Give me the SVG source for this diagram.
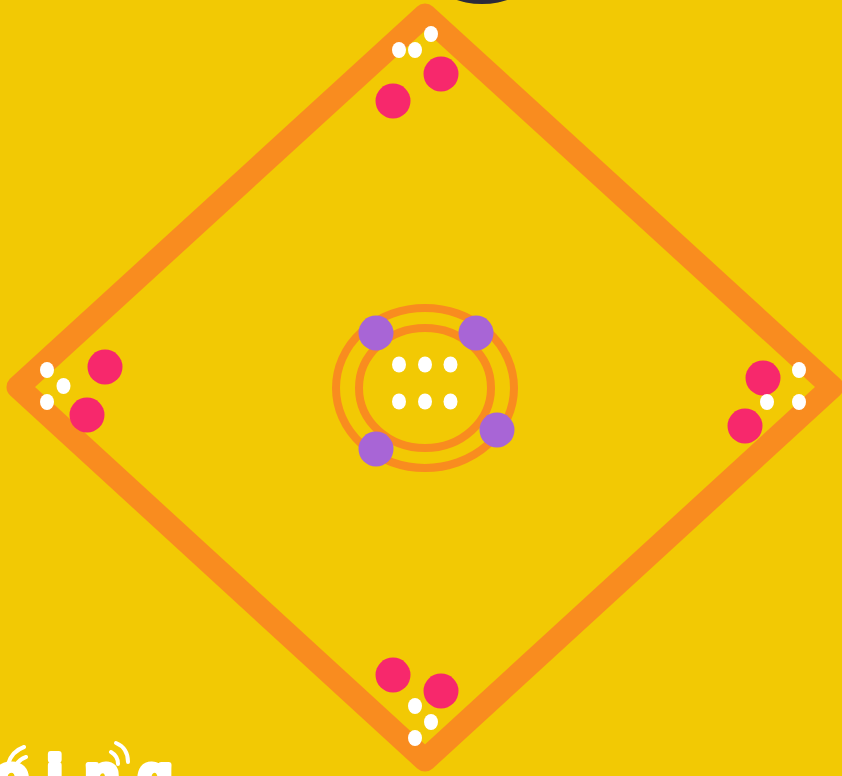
<svg xmlns="http://www.w3.org/2000/svg" width="842" height="776" viewBox="0 0 842 776">
<style>
.pink{fill:#F7286C}
.purple{fill:#A865D6}
.dot{fill:#FFFFFF}
.ring{fill:none;stroke:#F98C1F;stroke-width:8}
.logo{font-family:"Liberation Sans",Arial,sans-serif;font-weight:bold;font-size:56px;fill:#FFFFFF;stroke:#FFFFFF;stroke-width:6;stroke-linejoin:round}
.swoosh{fill:none;stroke:#FFFFFF;stroke-width:4;stroke-linecap:round}
</style>
<rect x="0" y="0" width="842" height="776" fill="#F2C904"/>
<ellipse cx="482" cy="-16" rx="42" ry="20" fill="#2B2A3A"/>
<g id="field">
<polygon points="425,15 832,387 425,760 18,387" fill="none" stroke="#F98C1F" stroke-width="23" stroke-linejoin="round"/>
</g>
<g id="center">
<ellipse class="ring" cx="425" cy="388" rx="89" ry="80"/>
<ellipse class="ring" cx="425" cy="388" rx="66" ry="60"/>
<circle class="purple" cx="376" cy="333" r="17.5"/>
<circle class="purple" cx="476" cy="333" r="17.5"/>
<circle class="purple" cx="497" cy="430" r="17.5"/>
<circle class="purple" cx="376" cy="449" r="17.5"/>
<ellipse class="dot" cx="399" cy="364.5" rx="7" ry="8"/>
<ellipse class="dot" cx="425" cy="364.5" rx="7" ry="8"/>
<ellipse class="dot" cx="450.5" cy="364.5" rx="7" ry="8"/>
<ellipse class="dot" cx="399" cy="401.5" rx="7" ry="8"/>
<ellipse class="dot" cx="425" cy="401.5" rx="7" ry="8"/>
<ellipse class="dot" cx="450.5" cy="401.5" rx="7" ry="8"/>
</g>
<g id="top-base">
<circle class="pink" cx="441" cy="74" r="17.5"/>
<circle class="pink" cx="393" cy="101" r="17.5"/>
<ellipse class="dot" cx="399" cy="50" rx="7" ry="8"/>
<ellipse class="dot" cx="415" cy="50" rx="7" ry="8"/>
<ellipse class="dot" cx="431" cy="34" rx="7" ry="8"/>
</g>
<g id="left-base">
<circle class="pink" cx="105" cy="367" r="17.5"/>
<circle class="pink" cx="87" cy="415" r="17.5"/>
<ellipse class="dot" cx="47" cy="370" rx="7" ry="8"/>
<ellipse class="dot" cx="63.5" cy="386" rx="7" ry="8"/>
<ellipse class="dot" cx="47" cy="402" rx="7" ry="8"/>
</g>
<g id="right-base">
<circle class="pink" cx="763" cy="378" r="17.5"/>
<circle class="pink" cx="745" cy="426" r="17.5"/>
<ellipse class="dot" cx="799" cy="370" rx="7" ry="8"/>
<ellipse class="dot" cx="767" cy="402" rx="7" ry="8"/>
<ellipse class="dot" cx="799" cy="402" rx="7" ry="8"/>
</g>
<g id="bottom-base">
<circle class="pink" cx="393" cy="675" r="17.5"/>
<circle class="pink" cx="441" cy="691" r="17.5"/>
<ellipse class="dot" cx="415" cy="706" rx="7" ry="8"/>
<ellipse class="dot" cx="431" cy="722" rx="7" ry="8"/>
<ellipse class="dot" cx="415" cy="738" rx="7" ry="8"/>
</g>
<g id="logo">
<path class="swoosh" d="M7,768 Q10,752 24,747"/>
<path class="swoosh" d="M14,770 Q17,760 26,757"/>
<path class="swoosh" d="M116,743 Q128,748 128,762"/>
<path class="swoosh" d="M111,752 Q118,756 118,764"/>
<text class="logo" x="-6" y="794">o</text>
<text class="logo" x="47" y="794">i</text>
<text class="logo" x="85" y="794">n</text>
<text class="logo" x="138" y="794">g</text>
</g>
</svg>
